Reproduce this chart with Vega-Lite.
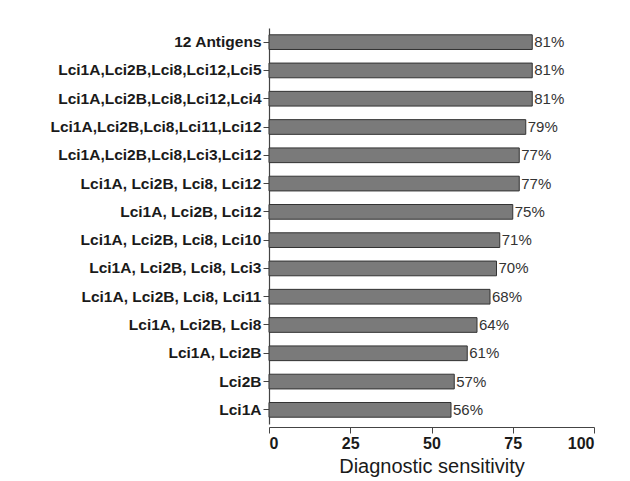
{
  "$schema": "https://vega.github.io/schema/vega-lite/v6.json",
  "width": 325,
  "height": 396,
  "autosize": {"type": "none"},
  "padding": {"left": 269, "top": 28, "right": 36, "bottom": 57},
  "background": "white",
  "config": {
    "font": "Liberation Sans",
    "view": {"stroke": null}
  },
  "data": {
    "values": [
      {"combo": "12 Antigens", "sens": 81},
      {"combo": "Lci1A,Lci2B,Lci8,Lci12,Lci5", "sens": 81},
      {"combo": "Lci1A,Lci2B,Lci8,Lci12,Lci4", "sens": 81},
      {"combo": "Lci1A,Lci2B,Lci8,Lci11,Lci12", "sens": 79},
      {"combo": "Lci1A,Lci2B,Lci8,Lci3,Lci12", "sens": 77},
      {"combo": "Lci1A, Lci2B, Lci8, Lci12", "sens": 77},
      {"combo": "Lci1A, Lci2B, Lci12", "sens": 75},
      {"combo": "Lci1A, Lci2B, Lci8, Lci10", "sens": 71},
      {"combo": "Lci1A, Lci2B, Lci8, Lci3", "sens": 70},
      {"combo": "Lci1A, Lci2B, Lci8, Lci11", "sens": 68},
      {"combo": "Lci1A, Lci2B, Lci8", "sens": 64},
      {"combo": "Lci1A, Lci2B", "sens": 61},
      {"combo": "Lci2B", "sens": 57},
      {"combo": "Lci1A", "sens": 56}
    ]
  },
  "encoding": {
    "y": {
      "field": "combo",
      "type": "nominal",
      "sort": null,
      "scale": {"paddingInner": 0.48, "paddingOuter": 0.24},
      "axis": {
        "title": null,
        "labelFont": "Liberation Sans",
        "labelFontSize": 15.5,
        "labelFontWeight": "bold",
        "labelColor": "#1a1a1a",
        "labelPadding": 2,
        "tickColor": "#444",
        "tickSize": 6,
        "domainColor": "#444",
        "domainWidth": 1.2,
        "labelLimit": 300
      }
    },
    "x": {
      "field": "sens",
      "type": "quantitative",
      "scale": {"domain": [0, 100], "nice": false},
      "axis": {
        "values": [0, 25, 50, 75, 100],
        "title": "Diagnostic sensitivity",
        "titleFont": "Liberation Sans",
        "titleFontSize": 20,
        "titleFontWeight": "normal",
        "titleColor": "#1a1a1a",
        "titlePadding": 5,
        "labelFont": "Liberation Sans",
        "labelFontSize": 16,
        "labelFontWeight": "bold",
        "labelColor": "#1a1a1a",
        "labelPadding": 2,
        "tickColor": "#444",
        "tickSize": 6,
        "domainColor": "#444",
        "domainWidth": 1.2,
        "grid": false,
        "offset": 3
      }
    }
  },
  "layer": [
    {
      "mark": {"type": "bar", "fill": "#7a7a7a", "stroke": "#333", "strokeWidth": 1}
    },
    {
      "mark": {"type": "text", "align": "left", "dx": 2, "fontSize": 15, "color": "#333", "font": "Liberation Sans", "text": {"expr": "datum.sens + '%'"}}
    }
  ]
}
